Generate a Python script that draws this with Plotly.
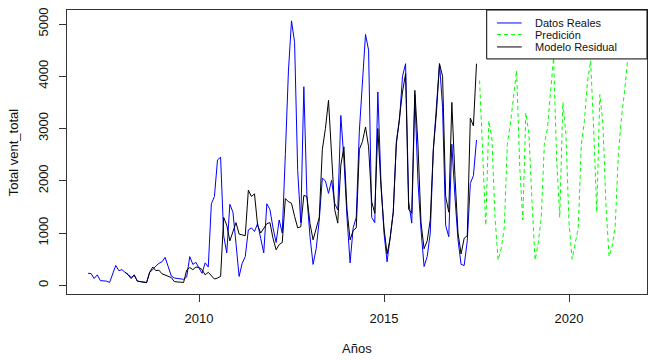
import plotly.graph_objects as go

# Monthly series (R ts style: start year/month, frequency 12)
real_start = 2007.0
datos_reales = [
    230, 225, 130, 200, 90, 85, 80, 55, 230, 380, 280, 300,          # 2007
    250, 210, 150, 190, 80, 75, 70, 55, 250, 300, 370, 420,          # 2008
    450, 535, 360, 180, 140, 130, 120, 115, 160, 550, 400, 440,      # 2009
    330, 230, 430, 350, 1560, 1700, 2400, 2450, 950, 620, 1550, 1400,  # 2010
    800, 170, 420, 550, 1060, 1100, 1030, 1180, 900, 620, 1560, 1450,  # 2011
    1100, 820, 1250, 1000, 2500, 4100, 5060, 4650, 2200, 1200, 3800, 1700,  # 2012
    930, 400, 700, 1250, 2050, 2000, 1760, 2010, 1570, 1440, 3250, 2400,    # 2013
    1300, 430, 1100, 1300, 2950, 3800, 4800, 4500, 1300, 1200, 3700, 2000,  # 2014
    1000, 450, 930, 1400, 2750, 3150, 4000, 4240, 1600, 1190, 3650, 2000,   # 2015
    1060, 360, 550, 1000, 2600, 3350, 4240, 3400, 1150, 930, 2700, 1700,    # 2016
    870, 400, 380, 850, 1950, 2100, 2780,                                   # 2017
]

resid_start = 2008.0
modelo_residual = [
    250, 200, 130, 200, 80, 70, 65, 50, 250, 350, 280, 290,          # 2008
    220, 200, 180, 150, 70, 60, 60, 55, 290, 340, 300, 350,          # 2009
    340, 300, 200, 250, 180, 120, 140, 170, 1300, 1150, 850, 1050,   # 2010
    1200, 980, 960, 950, 1820, 1700, 1750, 1150, 1000, 1100, 1180, 1200,  # 2011
    900, 680, 780, 820, 1660, 1600, 1570, 1320, 1100, 1120, 1720, 1700,   # 2012
    1180, 870, 1100, 1300, 2600, 3000, 3540, 2500, 1450, 1190, 2300, 2650,  # 2013
    1450, 870, 1050, 1100, 2600, 2750, 3030, 2650, 1600, 1380, 3000, 1900,  # 2014
    1100, 600, 900, 1400, 2700, 3200, 3700, 4050, 1450, 1380, 3730, 2700,   # 2015
    1200, 700, 850, 1250, 2600, 3300, 4240, 4000, 1700, 1400, 3500, 2100,   # 2016
    1000, 600, 900, 950, 3200, 3050, 4240,                                  # 2017
]

pred_start = 2017 + 7 / 12.0
prediccion = [
    3920, 2550, 1150, 3150, 2800,                                      # Aug-Dec 2017
    1300, 480, 700, 1100, 2700, 3100, 3600, 4110, 2300, 1250, 3300, 2900,   # 2018
    1600, 480, 800, 1300, 2700, 3000, 3700, 4350, 2400, 1300, 3500, 2900,   # 2019
    1200, 500, 800, 1100, 2700, 3150, 3900, 4300, 3000, 1400, 3650, 3100,   # 2020
    1500, 550, 750, 1150, 2500, 3200, 3700, 4300,                           # 2021
]

x_ticks = [2010, 2015, 2020]
y_ticks = [0, 1000, 2000, 3000, 4000, 5000]

legend_labels = ["Datos Reales", "Predición", "Modelo Residual"]
legend_colors = ["#0000FF", "#00FF00", "#000000"]
legend_dash = ["solid", "dash", "solid"]


def ts_time(start, n):
    return [start + i / 12.0 for i in range(n)]


fig = go.Figure()
fig.add_trace(go.Scatter(x=ts_time(real_start, len(datos_reales)), y=datos_reales,
                         mode="lines", line=dict(color="#0000FF", width=1),
                         name=legend_labels[0], showlegend=False))
fig.add_trace(go.Scatter(x=ts_time(resid_start, len(modelo_residual)), y=modelo_residual,
                         mode="lines", line=dict(color="#000000", width=1),
                         name=legend_labels[2], showlegend=False))
fig.add_trace(go.Scatter(x=ts_time(pred_start, len(prediccion)), y=prediccion,
                         mode="lines", line=dict(color="#00FF00", width=1, dash="4px,3px"),
                         name=legend_labels[1], showlegend=False))

font_family = "Liberation Sans, Arial, sans-serif"

# Manual R-style legend (box in top-right corner of the plot region)
shapes = [dict(type="rect", xref="paper", yref="paper", x0=0.7236, x1=1.0, y0=0.8277, y1=1.0,
               line=dict(color="#000000", width=1), fillcolor="white", layer="above")]
annotations = []
rows_y = [0.9543, 0.9135, 0.8699]
for lab, col, dsh, yy in zip(legend_labels, legend_colors, legend_dash, rows_y):
    shapes.append(dict(type="line", xref="paper", yref="paper", x0=0.7414, x1=0.7840, y0=yy, y1=yy,
                       line=dict(color=col, width=1, dash=("4px,3px" if dsh == "dash" else "solid")),
                       layer="above"))
    annotations.append(dict(text=lab, xref="paper", yref="paper", x=0.8040, y=yy,
                            xanchor="left", yanchor="middle", showarrow=False,
                            font=dict(family=font_family, size=11, color="#111")))

annotations.append(dict(text="Años", xref="paper", yref="paper", x=0.5, y=-0.1935,
                        xanchor="center", yanchor="middle", showarrow=False,
                        font=dict(family=font_family, size=13, color="#111")))
annotations.append(dict(text="Total vent_total", xref="paper", yref="paper", x=-0.0926, y=0.5,
                        xanchor="center", yanchor="middle", showarrow=False, textangle=-90,
                        font=dict(family=font_family, size=13, color="#111")))

fig.update_layout(
    width=653, height=360,
    margin=dict(l=67, r=6, t=10, b=66, autoexpand=False),
    paper_bgcolor="white", plot_bgcolor="white",
    font=dict(family=font_family, size=13, color="#111"),
    shapes=shapes, annotations=annotations,
    showlegend=False,
)
fig.update_xaxes(range=[2006.432, 2022.108], tickvals=x_ticks, ticktext=[str(v) for v in x_ticks],
                 showgrid=False, zeroline=False, showline=True, mirror=True, automargin=False,
                 linecolor="#333", linewidth=1, ticks="outside", ticklen=7, tickcolor="#333",
                 ticklabelstandoff=5)
fig.update_yaxes(range=[-166, 5268], tickvals=y_ticks, ticktext=[str(v) for v in y_ticks],
                 showgrid=False, zeroline=False, showline=True, mirror=True, automargin=False,
                 linecolor="#333", linewidth=1, ticks="outside", ticklen=7, tickcolor="#333",
                 tickangle=-90, ticklabelstandoff=6)

fig.write_html("out.html",
               config={"displayModeBar": False, "staticPlot": True},
               post_script="document.body.style.margin='0';document.body.style.padding='0';"
                           "document.body.style.overflow='hidden';")
